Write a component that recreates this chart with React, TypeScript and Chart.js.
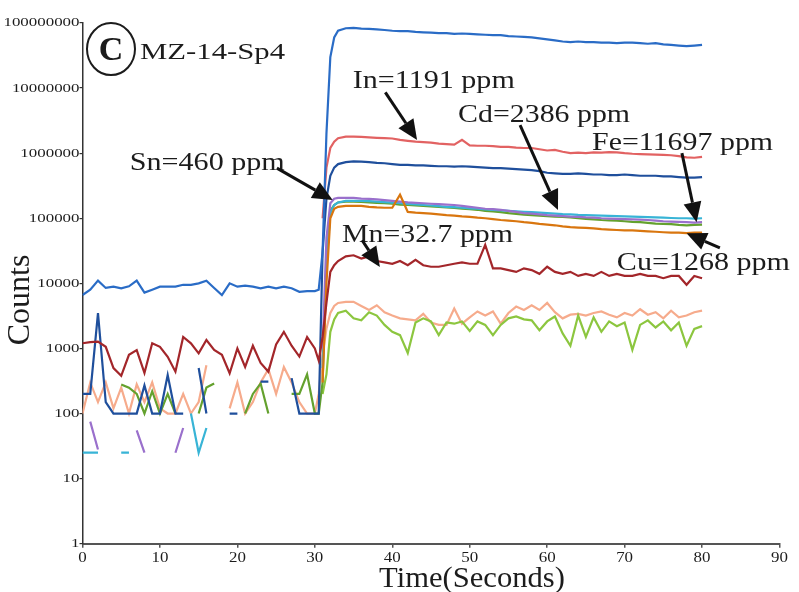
import React, { useEffect, useRef } from "react";
import { Chart, registerables } from "chart.js";

Chart.register(...registerables);

// ---- time grids (seconds) ----
const T_BG = [0, 1, 2, 3, 4, 5, 6, 7, 8, 9, 10, 11, 12, 13, 14, 15, 16, 17, 18, 19, 20, 21, 22, 23, 24, 25, 26, 27, 28, 29, 30];
const T_MAIN = [30.5, 31, 31.5, 32, 32.5, 33, 34, 35,
  36, 37, 38, 39, 40, 41, 42, 43, 44, 45, 46, 47, 48, 49, 50, 51, 52, 53, 54, 55, 56, 57, 58, 59, 60,
  61, 62, 63, 64, 65, 66, 67, 68, 69, 70, 71, 72, 73, 74, 75, 76, 77, 78, 79, 80];

// ---- axis ticks ----
const X_TICKS = [0, 10, 20, 30, 40, 50, 60, 70, 80, 90];
const Y_TICKS = [1, 10, 100, 1000, 10000, 100000, 1000000, 10000000, 100000000];
const Y_TICK_LABELS = ["1", "10", "100", "1000", "10000", "100000", "1000000", "10000000", "100000000"];

// ---- series (counts) ----
const ZN_BG = [6600, 8000, 11000, 8500, 8900, 8400, 9000, 11000, 7200, 8000, 8900, 8900, 8900, 9500, 9500, 10000, 11000, 8500, 6600, 10000, 8900, 9200, 8900, 8400, 8900, 8400, 8900, 8400, 7400, 7600, 7600];
const ZN_MAIN = [8000, 3e4, 2e6, 3e7, 6e7, 7.6e7, 8.3e7, 8.4e7,
  8.2e7, 8.1e7, 8.0e7, 7.8e7, 7.6e7, 7.5e7, 7.5e7, 7.3e7, 7.2e7, 7.1e7, 7.0e7, 7.0e7, 6.8e7, 6.9e7, 6.8e7,
  6.7e7, 6.6e7, 6.5e7, 6.5e7, 6.3e7, 6.2e7, 6.1e7, 6.0e7, 5.8e7, 5.6e7, 5.4e7, 5.2e7, 5.1e7, 5.2e7, 5.1e7,
  5.1e7, 5.0e7, 5.0e7, 4.9e7, 5.0e7, 5.0e7, 4.9e7, 4.8e7, 4.9e7, 4.7e7, 4.6e7, 4.5e7, 4.4e7, 4.5e7, 4.6e7];

const IN_MAIN = [null, 1e5, 6e5, 1.2e6, 1.5e6, 1.7e6, 1.8e6, 1.8e6,
  1.78e6, 1.75e6, 1.72e6, 1.7e6, 1.68e6, 1.6e6, 1.55e6, 1.5e6, 1.48e6, 1.45e6, 1.4e6, 1.38e6, 1.35e6, 1.6e6, 1.32e6,
  1.3e6, 1.3e6, 1.28e6, 1.25e6, 1.25e6, 1.22e6, 1.2e6, 1.2e6, 1.15e6, 1.1e6, 1.12e6, 1.05e6, 1.0e6, 1.02e6, 1.0e6,
  1.03e6, 1.02e6, 1.04e6, 1.03e6, 1.0e6, 9.8e5, 9.7e5, 9.6e5, 9.5e5, 9.4e5, 9.3e5, 9.0e5, 8.6e5, 8.5e5, 8.8e5];

const B2_BG = [200, 200, 3500, 150, 100, 100, 100, 100, 270, 100, 100, 390, 100, 100, null, 500, 100, null, null, 100, 100, null, null, 310, 310, null, null, 350, 100, 100, 100];
const B2_MAIN = [100, 3e4, 2e5, 4.5e5, 6e5, 6.8e5, 7.3e5, 7.5e5,
  7.4e5, 7.3e5, 7.1e5, 7.0e5, 6.8e5, 6.6e5, 6.6e5, 6.5e5, 6.5e5, 6.4e5, 6.3e5, 6.3e5, 6.2e5, 6.3e5, 6.2e5,
  6.1e5, 6.0e5, 5.9e5, 5.9e5, 5.8e5, 5.7e5, 5.6e5, 5.5e5, 5.3e5, 5.0e5, 4.9e5, 4.8e5, 4.8e5, 4.9e5, 4.8e5,
  4.7e5, 4.7e5, 4.6e5, 4.6e5, 4.7e5, 4.6e5, 4.5e5, 4.5e5, 4.5e5, 4.4e5, 4.4e5, 4.3e5, 4.2e5, 4.2e5, 4.3e5];

const PURPLE_BG = [null, 75, 28, null, null, null, null, 55, 25, null, null, null, 25, 60, null, null, null, null, null, null, null, null, null, null, null, null, null, null, null, null, null];
const PURPLE_MAIN = [null, 1000, 5e4, 1.7e5, 2.0e5, 2.05e5, 2.05e5, 2.05e5,
  2.0e5, 1.98e5, 1.95e5, 1.9e5, 1.85e5, 1.8e5, 1.75e5, 1.72e5, 1.7e5, 1.67e5, 1.65e5, 1.62e5, 1.6e5, 1.55e5, 1.5e5,
  1.45e5, 1.4e5, 1.38e5, 1.35e5, 1.3e5, 1.25e5, 1.2e5, 1.18e5, 1.15e5, 1.12e5, 1.1e5, 1.08e5, 1.06e5, 1.05e5, 1.03e5,
  1.02e5, 1.0e5, 9.9e4, 9.8e4, 9.7e4, 9.6e4, 9.5e4, 9.4e4, 9.2e4, 9.0e4, 8.9e4, 8.8e4, 8.7e4, 8.6e4, 8.7e4];

const CYAN_BG = [25, 25, 25, null, null, 25, 25, null, null, null, null, null, null, null, 100, 25, 60, null, null, null, null, null, null, null, null, null, null, null, null, null, null];
const CYAN_MAIN = [null, 500, 2e4, 1.2e5, 1.6e5, 1.75e5, 1.85e5, 1.85e5,
  1.85e5, 1.83e5, 1.8e5, 1.77e5, 1.74e5, 1.7e5, 1.66e5, 1.63e5, 1.6e5, 1.57e5, 1.54e5, 1.5e5, 1.48e5, 1.45e5, 1.42e5,
  1.4e5, 1.37e5, 1.35e5, 1.32e5, 1.3e5, 1.28e5, 1.26e5, 1.24e5, 1.22e5, 1.2e5, 1.18e5, 1.16e5, 1.15e5, 1.13e5, 1.12e5,
  1.11e5, 1.1e5, 1.09e5, 1.08e5, 1.07e5, 1.06e5, 1.05e5, 1.04e5, 1.03e5, 1.02e5, 1.01e5, 1.0e5, 1.0e5, 9.9e4, 1.0e5];

const GREEN_BG = [null, null, null, null, null, 280, 250, 200, 100, 220, 100, 200, 100, null, null, 100, 250, 290, null, null, null, 100, 200, 290, 100, null, null, 200, 200, 400, 100];
const GREEN_MAIN = [100, 300, 2e4, 1.3e5, 1.6e5, 1.75e5, 1.8e5, 1.8e5,
  1.78e5, 1.75e5, 1.72e5, 1.7e5, 1.67e5, 1.62e5, 1.6e5, 1.57e5, 1.55e5, 1.52e5, 1.5e5, 1.47e5, 1.44e5, 1.41e5, 1.38e5,
  1.35e5, 1.3e5, 1.27e5, 1.24e5, 1.2e5, 1.17e5, 1.14e5, 1.12e5, 1.1e5, 1.08e5, 1.06e5, 1.05e5, 1.03e5, 1.0e5, 9.8e4,
  9.6e4, 9.4e4, 9.3e4, 9.2e4, 9.0e4, 8.8e4, 8.7e4, 8.5e4, 8.3e4, 8.2e4, 8.1e4, 7.9e4, 7.8e4, 7.9e4, 8.0e4];

const ORANGE_MAIN = [null, 300, 1e4, 1.0e5, 1.4e5, 1.5e5, 1.55e5, 1.55e5,
  1.55e5, 1.5e5, 1.47e5, 1.45e5, 1.45e5, 2.3e5, 1.25e5, 1.22e5, 1.2e5, 1.18e5, 1.15e5, 1.12e5, 1.1e5, 1.07e5, 1.05e5,
  1.02e5, 1.0e5, 9.7e4, 9.4e4, 9.2e4, 9.0e4, 8.7e4, 8.5e4, 8.2e4, 8.0e4, 7.8e4, 7.5e4, 7.3e4, 7.2e4, 7.1e4,
  7.0e4, 6.8e4, 6.7e4, 6.6e4, 6.5e4, 6.5e4, 6.4e4, 6.3e4, 6.2e4, 6.1e4, 6.0e4, 6.0e4, 5.9e4, 6.0e4, 6.0e4];

const MN_BG = [1200, 1250, 1270, 1060, 500, 380, 800, 945, 420, 1200, 1060, 745, 440, 1500, 1200, 840, 1350, 950, 800, 415, 1000, 520, 1100, 600, 440, 1150, 1800, 1100, 750, 1500, 1000];
const MN_MAIN = [650, 1500, 5000, 1.5e4, 1.9e4, 2.2e4, 2.6e4, 2.7e4,
  2.4e4, 2.6e4, 2.2e4, 2.1e4, 2.0e4, 2.2e4, 1.9e4, 2.3e4, 1.9e4, 1.8e4, 1.8e4, 1.9e4, 2.0e4, 2.1e4, 2.0e4,
  2.0e4, 3.9e4, 1.7e4, 1.7e4, 1.6e4, 1.5e4, 1.7e4, 1.6e4, 1.4e4, 1.8e4, 1.5e4, 1.4e4, 1.5e4, 1.3e4, 1.4e4,
  1.3e4, 1.5e4, 1.3e4, 1.4e4, 1.3e4, 1.3e4, 1.4e4, 1.3e4, 1.3e4, 1.2e4, 1.3e4, 1.3e4, 9500, 1.3e4, 1.2e4];

const PEACH_BG = [100, 300, 150, 300, 120, 250, 100, 280, 150, 300, 120, 100, 100, 200, 100, 150, 550, null, null, 120, 300, 100, 150, 300, 480, 200, 520, 300, 150, 100, 100];
const PEACH_MAIN = [200, 800, 2000, 3500, 4500, 5000, 5200, 5200,
  4500, 3900, 4600, 3600, 3200, 2900, 2800, 2700, 3400, 2500, 2300, 2300, 4100, 2400, 3000,
  3700, 3200, 3700, 2400, 3500, 4400, 3900, 4600, 3900, 5000, 3600, 2900, 3300, 3400, 3200,
  3500, 3700, 3300, 3000, 3500, 3200, 4000, 3300, 3600, 2900, 3800, 3000, 3200, 3600, 3800];

const LGREEN_MAIN = [null, 200, 400, 1800, 2800, 3500, 3800, 2900,
  2700, 3600, 3200, 2300, 1800, 1600, 850, 2500, 2900, 2600, 1600, 2500, 2400, 2600, 1850,
  2600, 2300, 1600, 2300, 2900, 3100, 2800, 2700, 1900, 2600, 3100, 1700, 1100, 3200, 1500,
  3000, 1800, 2600, 2200, 2500, 950, 2300, 2700, 2100, 2600, 1900, 2500, 1100, 2000, 2200];

// ---- annotations (data coordinates: seconds, counts) ----
const LABELS = [
  { text: "In=1191 ppm", t: 34.9, v: 1.0e7, w: 162 },
  { text: "Cd=2386 ppm", t: 48.5, v: 3.0e6, w: 172 },
  { text: "Fe=11697 ppm", t: 65.8, v: 1.12e6, w: 181 },
  { text: "Sn=460 ppm", t: 6.1, v: 5.5e5, w: 155 },
  { text: "Mn=32.7 ppm", t: 33.5, v: 4.3e4, w: 171 },
  { text: "Cu=1268 ppm", t: 69.0, v: 1.6e4, w: 173 },
];
const ARROWS = [
  { t1: 39.1, v1: 8.6e6, t2: 43.2, v2: 1.6e6 },
  { t1: 56.5, v1: 2.7e6, t2: 61.4, v2: 1.34e5 },
  { t1: 77.4, v1: 1.0e6, t2: 79.3, v2: 8.7e4 },
  { t1: 82.3, v1: 3.5e4, t2: 78.0, v2: 5.9e4 },
  { t1: 36.1, v1: 4.6e4, t2: 38.4, v2: 1.78e4 },
  { t1: 25.1, v1: 5.9e5, t2: 32.3, v2: 1.9e5 },
];
const SAMPLE = { letter: "C", name: "MZ-14-Sp4", ct: 3.68, cv: 3.97e7, nt: 7.43, nv: 2.79e7 };

const SERIES = [
  { label: "Zn", color: "#2a6cc6", bg: ZN_BG, main: ZN_MAIN },
  { label: "In", color: "#e26262", bg: null, main: IN_MAIN },
  { label: "Mn", color: "#a3262a", bg: MN_BG, main: MN_MAIN },
  { label: "Fe", color: "#1f4f9c", bg: B2_BG, main: B2_MAIN },
  { label: "Cu", color: "#d9760f", bg: null, main: ORANGE_MAIN },
  { label: "Sn", color: "#9a70cc", bg: PURPLE_BG, main: PURPLE_MAIN },
  { label: "Cd", color: "#38b4d6", bg: CYAN_BG, main: CYAN_MAIN },
  { label: "Ga", color: "#64a12e", bg: GREEN_BG, main: GREEN_MAIN },
  { label: "Ge", color: "#8cc63f", bg: null, main: LGREEN_MAIN },
  { label: "Ag", color: "#f6ab8c", bg: PEACH_BG, main: PEACH_MAIN },
];

const SERIF = '"Liberation Serif", "Times New Roman", serif';

function toPoints(bg: (number | null)[] | null, main: (number | null)[]) {
  const pts: { x: number; y: number | null }[] = [];
  if (bg) bg.forEach((v, i) => pts.push({ x: T_BG[i], y: v }));
  main.forEach((v, i) => pts.push({ x: T_MAIN[i], y: v }));
  return pts;
}

function drawScaledText(ctx: CanvasRenderingContext2D, text: string, x: number, y: number, font: string, sx: number, align: CanvasTextAlign, baseline: CanvasTextBaseline) {
  ctx.save();
  ctx.font = font;
  ctx.translate(x, y);
  ctx.scale(sx, 1);
  ctx.textAlign = align;
  ctx.textBaseline = baseline;
  ctx.fillText(text, 0, 0);
  ctx.restore();
}

const overlay = {
  id: "overlay",
  afterDraw(chart: any) {
    const ctx: CanvasRenderingContext2D = chart.ctx;
    const xs = chart.scales.x;
    const ys = chart.scales.y;
    const area = chart.chartArea;
    ctx.save();
    ctx.fillStyle = "#1c1c1c";
    // y tick labels
    Y_TICKS.forEach((v, i) => {
      drawScaledText(ctx, Y_TICK_LABELS[i], xs.left - 3, ys.getPixelForValue(v), "13px " + SERIF, 1.3, "right", "middle");
    });
    // x tick labels
    X_TICKS.forEach((v) => {
      drawScaledText(ctx, String(v), xs.getPixelForValue(v), area.bottom + 14.5, "15px " + SERIF, 1.13, "center", "middle");
    });
    // axis titles
    ctx.save();
    ctx.font = "32px " + SERIF;
    ctx.translate(21, 300);
    ctx.rotate(-Math.PI / 2);
    ctx.textAlign = "center";
    ctx.textBaseline = "middle";
    ctx.fillText("Counts", 0, 0);
    ctx.restore();
    drawScaledText(ctx, "Time(Seconds)", 472, 587, "30px " + SERIF, 1.02, "center", "alphabetic");

    // sample label
    const cx = xs.getPixelForValue(SAMPLE.ct);
    const cy = ys.getPixelForValue(SAMPLE.cv);
    ctx.strokeStyle = "#1c1c1c";
    ctx.lineWidth = 2;
    ctx.beginPath();
    ctx.ellipse(cx, cy, 24, 26, 0, 0, Math.PI * 2);
    ctx.stroke();
    drawScaledText(ctx, SAMPLE.letter, cx, cy + 2, "bold 34px " + SERIF, 1.0, "center", "middle");
    {
      ctx.font = "24px " + SERIF;
      const w = ctx.measureText(SAMPLE.name).width;
      drawScaledText(ctx, SAMPLE.name, xs.getPixelForValue(SAMPLE.nt), ys.getPixelForValue(SAMPLE.nv), "24px " + SERIF, 145 / w, "left", "alphabetic");
    }

    // labels
    LABELS.forEach((l) => {
      const font = "26px " + SERIF;
      ctx.font = font;
      const w = ctx.measureText(l.text).width;
      drawScaledText(ctx, l.text, xs.getPixelForValue(l.t), ys.getPixelForValue(l.v), font, l.w / w, "left", "alphabetic");
    });

    // arrows
    ctx.strokeStyle = "#111";
    ctx.fillStyle = "#111";
    ARROWS.forEach((a) => {
      const x1 = xs.getPixelForValue(a.t1), y1 = ys.getPixelForValue(a.v1);
      const x2 = xs.getPixelForValue(a.t2), y2 = ys.getPixelForValue(a.v2);
      const ang = Math.atan2(y2 - y1, x2 - x1);
      const hl = 20, hw = 9;
      const bx = x2 - hl * Math.cos(ang), by = y2 - hl * Math.sin(ang);
      ctx.lineWidth = 3;
      ctx.beginPath();
      ctx.moveTo(x1, y1);
      ctx.lineTo(bx, by);
      ctx.stroke();
      ctx.beginPath();
      ctx.moveTo(x2, y2);
      ctx.lineTo(bx + hw * Math.sin(ang), by - hw * Math.cos(ang));
      ctx.lineTo(bx - hw * Math.sin(ang), by + hw * Math.cos(ang));
      ctx.closePath();
      ctx.fill();
    });
    ctx.restore();
  },
};

export default function App() {
  const ref = useRef<HTMLCanvasElement | null>(null);
  useEffect(() => {
    if (!ref.current) return;
    const datasets = SERIES.map((s) => ({
      label: s.label,
      data: toPoints(s.bg, s.main),
      borderColor: s.color,
      backgroundColor: s.color,
      borderWidth: 2.2,
      pointRadius: 0,
      tension: 0,
      spanGaps: false,
      fill: false,
    }));
    const chart = new Chart(ref.current, {
      type: "line",
      data: { datasets } as any,
      options: {
        animation: false,
        responsive: false,
        devicePixelRatio: 1,
        parsing: false,
        normalized: true,
        layout: { padding: { left: 0, right: 19.5, top: 23, bottom: 0 } },
        plugins: { legend: { display: false }, tooltip: { enabled: false }, title: { display: false } },
        scales: {
          x: {
            type: "linear",
            min: 0,
            max: 90,
            ticks: { stepSize: 10, display: false },
            grid: { display: true, drawOnChartArea: false, drawTicks: true, tickLength: 4, color: "#555", lineWidth: 1.5 },
            border: { display: true, color: "#555", width: 2 },
            afterFit: (s: any) => { s.height = 48.3; },
          },
          y: {
            type: "logarithmic",
            min: 1,
            max: 100000000,
            ticks: { display: false },
            afterBuildTicks: (s: any) => { s.ticks = Y_TICKS.map((v) => ({ value: v })); },
            grid: { display: true, drawOnChartArea: false, drawTicks: true, tickLength: 3, color: "#333", lineWidth: 1.2 },
            border: { display: true, color: "#333", width: 1.5 },
            afterFit: (s: any) => { s.width = 82.5; },
          },
        },
      } as any,
      plugins: [overlay],
    });
    return () => chart.destroy();
  }, []);
  return (
    <div style={{ position: "absolute", left: 0, top: 0, width: 799, height: 592, background: "#fff" }}>
      <canvas ref={ref} width={799} height={592} style={{ width: 799, height: 592, display: "block" }} />
    </div>
  );
}
